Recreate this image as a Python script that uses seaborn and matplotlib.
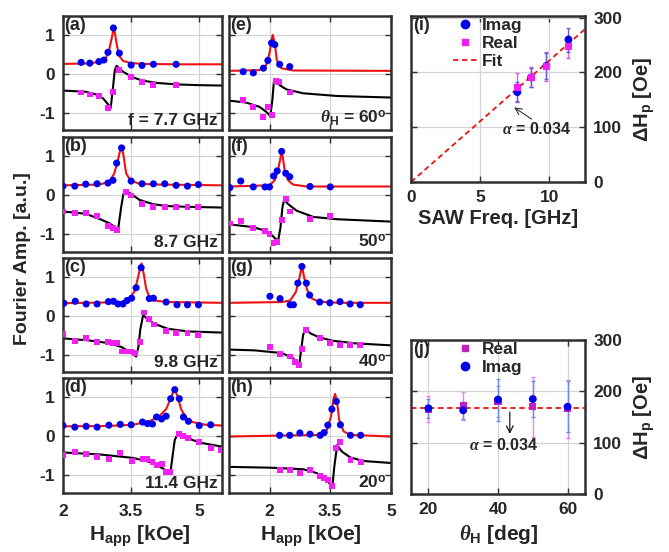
import pandas as pd
import matplotlib
matplotlib.use("Agg")
import matplotlib.pyplot as plt
from matplotlib.lines import Line2D
import seaborn as sns

# Values: (H [kOe], amplitude)
# (a) f = 7.7 GHz
A_IM = [(2.40, 0.30), (2.59, 0.28), (2.79, 0.32), (2.90, 0.36), (2.99, 0.56), (3.11, 1.19),
        (3.24, 0.54), (3.50, 0.23), (3.74, 0.22), (3.99, 0.25), (4.49, 0.25)]
A_RE = [(2.40, -0.48), (2.59, -0.53), (2.79, -0.57), (2.99, -0.87), (3.10, -0.46), (3.24, 0.10),
        (3.50, -0.07), (3.74, -0.20), (3.99, -0.29), (4.49, -0.29)]
A_FIT_IM = [(2.0, 0.26), (2.5, 0.27), (2.8, 0.31), (2.95, 0.42), (3.02, 0.65), (3.08, 0.97),
            (3.12, 1.23), (3.17, 0.85), (3.23, 0.48), (3.32, 0.34), (3.46, 0.29), (3.75, 0.26),
            (4.5, 0.25), (5.5, 0.25)]
A_FIT_RE = [(2.0, -0.43), (2.5, -0.46), (2.73, -0.53), (2.88, -0.63), (2.99, -0.78), (3.05, -0.88),
            (3.10, -0.35), (3.14, 0.10), (3.18, 0.21), (3.32, 0.06), (3.54, -0.09), (3.75, -0.17),
            (4.05, -0.23), (4.5, -0.27), (5.0, -0.29), (5.5, -0.30)]

# (b) 8.7 GHz
B_IM = [(2.0, 0.24), (2.26, 0.24), (2.50, 0.29), (2.75, 0.30), (2.99, 0.32), (3.10, 0.39),
        (3.18, 0.83), (3.29, 1.22), (3.50, 0.37), (3.74, 0.30), (3.99, 0.30), (4.24, 0.30),
        (4.49, 0.26), (4.74, 0.24), (4.98, 0.28)]
B_RE = [(2.0, -0.41), (2.26, -0.45), (2.50, -0.44), (2.75, -0.52), (2.99, -0.78), (3.10, -0.83),
        (3.18, -0.89), (3.39, 0.09), (3.50, 0.0), (3.74, -0.22), (3.99, -0.29), (4.24, -0.30),
        (4.49, -0.30), (4.74, -0.30), (4.98, -0.30)]
B_FIT_IM = [(2.0, 0.26), (2.8, 0.28), (3.02, 0.35), (3.13, 0.57), (3.21, 0.91), (3.26, 1.17),
            (3.29, 1.24), (3.33, 1.04), (3.39, 0.57), (3.48, 0.39), (3.68, 0.30), (4.12, 0.28),
            (5.5, 0.26)]
B_FIT_RE = [(2.0, -0.41), (2.5, -0.47), (2.8, -0.60), (3.02, -0.71), (3.13, -0.80), (3.21, -0.90),
            (3.28, -0.30), (3.33, 0.04), (3.38, 0.12), (3.50, 0.04), (3.68, -0.11), (3.97, -0.22),
            (4.27, -0.27), (4.71, -0.29), (5.5, -0.31)]

# (c) 9.8 GHz
C_IM = [(2.02, 0.33), (2.27, 0.38), (2.51, 0.31), (2.75, 0.31), (3.00, 0.37), (3.11, 0.38),
        (3.21, 0.31), (3.32, 0.31), (3.41, 0.40), (3.51, 0.46), (3.61, 0.73), (3.72, 1.25),
        (3.90, 0.45), (3.99, 0.46), (4.27, 0.36), (4.51, 0.29), (4.74, 0.29), (4.98, 0.29)]
C_RE = [(2.0, -0.47), (2.26, -0.64), (2.50, -0.58), (2.75, -0.67), (2.99, -0.67), (3.10, -0.69),
        (3.18, -0.71), (3.29, -0.92), (3.39, -0.92), (3.50, -0.92), (3.59, -0.96), (3.70, -0.67),
        (3.79, 0.09), (3.90, -0.09), (4.01, -0.22), (4.27, -0.38), (4.49, -0.43), (4.74, -0.45),
        (4.98, -0.49)]
C_FIT_IM = [(2.0, 0.33), (3.0, 0.35), (3.28, 0.36), (3.46, 0.45), (3.57, 0.63), (3.64, 0.94),
            (3.70, 1.25), (3.73, 1.36), (3.78, 1.07), (3.83, 0.71), (3.90, 0.49), (4.01, 0.40),
            (4.30, 0.36), (5.5, 0.34)]
C_FIT_RE = [(2.0, -0.58), (2.55, -0.63), (2.99, -0.70), (3.28, -0.80), (3.46, -0.92), (3.61, -1.05),
            (3.66, -0.80), (3.70, -0.36), (3.76, 0.0), (3.78, 0.01), (3.86, -0.09), (4.01, -0.20),
            (4.30, -0.33), (4.74, -0.40), (5.5, -0.43)]

# (d) 11.4 GHz
D_IM = [(2.0, 0.28), (2.26, 0.24), (2.51, 0.26), (2.75, 0.24), (3.01, 0.29), (3.26, 0.31),
        (3.50, 0.30), (3.75, 0.37), (3.86, 0.33), (3.97, 0.32), (4.06, 0.50), (4.17, 0.45),
        (4.27, 0.52), (4.37, 0.97), (4.46, 1.20), (4.56, 0.97), (4.65, 0.50), (4.76, 0.39),
        (5.0, 0.28), (5.25, 0.30)]
D_RE = [(2.0, -0.48), (2.26, -0.39), (2.51, -0.46), (2.75, -0.52), (3.01, -0.57), (3.26, -0.42),
        (3.51, -0.63), (3.75, -0.58), (3.86, -0.58), (3.97, -0.65), (4.06, -0.74), (4.17, -0.70),
        (4.27, -0.90), (4.35, -0.91), (4.56, 0.07), (4.65, 0.02), (4.76, -0.04), (5.0, -0.15),
        (5.25, -0.30), (5.47, -0.35)]
D_FIT_IM = [(2.0, 0.26), (3.0, 0.27), (3.54, 0.30), (3.90, 0.39), (4.12, 0.52), (4.27, 0.70),
            (4.38, 1.0), (4.45, 1.23), (4.52, 1.04), (4.60, 0.70), (4.71, 0.48), (4.85, 0.37),
            (5.14, 0.30), (5.5, 0.28)]
D_FIT_RE = [(2.0, -0.41), (2.80, -0.46), (3.54, -0.55), (3.90, -0.65), (4.12, -0.77), (4.27, -0.87),
            (4.36, -0.96), (4.41, -0.52), (4.46, -0.09), (4.54, 0.10), (4.67, 0.03), (4.85, -0.09),
            (5.07, -0.17), (5.5, -0.26)]

# (e) theta_H = 60 deg
E_IM = [(1.35, 0.06), (1.60, 0.03), (1.85, 0.15), (1.96, 0.35), (2.05, 0.80), (2.13, 0.76),
        (2.25, 0.25), (2.50, 0.19)]
E_RE = [(1.35, -0.68), (1.60, -0.85), (1.85, -1.11), (1.96, -0.85), (2.06, -1.06), (2.15, -0.18),
        (2.23, -0.20), (2.50, -0.48)]
E_FIT_IM = [(1.0, 0.08), (1.75, 0.10), (1.92, 0.23), (2.0, 0.54), (2.07, 0.97), (2.08, 1.01),
            (2.13, 0.80), (2.18, 0.36), (2.29, 0.15), (2.58, 0.09), (5.0, 0.08)]
E_FIT_RE = [(1.0, -0.69), (1.42, -0.74), (1.75, -0.85), (1.92, -0.98), (2.02, -1.09), (2.07, -0.68),
            (2.11, -0.17), (2.15, -0.16), (2.25, -0.29), (2.42, -0.40), (2.83, -0.50), (3.67, -0.57),
            (5.0, -0.61)]

# (f) 50 deg
F_IM = [(1.02, 0.20), (1.29, 0.37), (1.60, 0.22), (1.89, 0.22), (2.0, 0.22), (2.10, 0.50),
        (2.19, 0.63), (2.30, 1.13), (2.40, 0.57), (2.50, 0.48), (3.0, 0.23), (3.5, 0.22)]
F_RE = [(1.02, -0.72), (1.29, -0.65), (1.60, -0.84), (1.89, -0.91), (2.0, -0.98), (2.10, -1.22),
        (2.19, -1.19), (2.30, -0.63), (2.40, -0.10), (2.50, -0.41), (3.0, -0.61), (3.5, -0.52)]
F_FIT_IM = [(1.0, 0.23), (2.0, 0.26), (2.13, 0.39), (2.21, 0.65), (2.27, 0.96), (2.30, 1.13),
            (2.33, 0.96), (2.38, 0.61), (2.46, 0.39), (2.58, 0.28), (2.92, 0.23), (5.0, 0.23)]
F_FIT_RE = [(1.0, -0.74), (1.58, -0.81), (1.92, -0.91), (2.08, -1.04), (2.21, -1.17), (2.27, -0.83),
            (2.32, -0.30), (2.36, -0.11), (2.46, -0.22), (2.67, -0.39), (3.08, -0.55), (3.67, -0.61),
            (5.0, -0.67)]

# (g) 40 deg
G_IM = [(2.01, 0.51), (2.26, 0.45), (2.51, 0.29), (2.59, 0.29), (2.70, 0.85), (2.80, 1.28),
        (2.91, 0.85), (2.99, 0.54), (3.24, 0.36), (3.49, 0.34), (3.74, 0.37), (3.99, 0.31), (4.24, 0.29)]
G_RE = [(2.01, -0.80), (2.26, -0.98), (2.51, -1.05), (2.62, -1.19), (2.72, -1.28), (2.80, -0.85),
        (2.91, -0.37), (3.24, -0.58), (3.49, -0.70), (3.74, -0.76), (3.99, -0.74), (4.24, -0.76)]
G_FIT_IM = [(1.0, 0.34), (2.30, 0.36), (2.51, 0.40), (2.65, 0.62), (2.73, 0.94), (2.80, 1.29),
            (2.86, 0.98), (2.93, 0.67), (3.05, 0.45), (3.22, 0.37), (3.72, 0.34), (5.0, 0.34)]
G_FIT_RE = [(1.0, -0.87), (1.63, -0.89), (2.30, -0.96), (2.55, -1.07), (2.68, -1.19), (2.73, -1.29),
            (2.78, -0.89), (2.83, -0.49), (2.88, -0.34), (3.01, -0.45), (3.22, -0.55), (3.55, -0.64),
            (4.13, -0.71), (5.0, -0.76)]

# (h) 20 deg
H_IM = [(2.25, 0.03), (2.5, 0.03), (2.75, 0.09), (3.0, 0.06), (3.25, 0.03), (3.35, 0.10),
        (3.44, 0.29), (3.54, 0.70), (3.65, 0.90), (3.75, 0.30), (4.0, 0.03), (4.25, 0.03)]
H_RE = [(2.25, -0.87), (2.5, -0.85), (2.75, -0.93), (3.0, -0.85), (3.25, -1.02), (3.35, -1.06),
        (3.44, -1.11), (3.54, -1.26), (3.65, -0.30), (3.75, -0.15), (4.0, -0.61), (4.25, -0.65)]
H_FIT_IM = [(1.0, 0.0), (3.25, 0.04), (3.42, 0.17), (3.52, 0.52), (3.58, 0.96), (3.62, 1.09),
            (3.67, 0.87), (3.72, 0.43), (3.83, 0.13), (4.0, 0.04), (5.0, 0.0)]
H_FIT_RE = [(1.0, -0.78), (2.0, -0.80), (2.83, -0.84), (3.17, -0.94), (3.38, -1.09), (3.50, -1.23),
            (3.55, -1.29), (3.60, -0.78), (3.67, -0.22), (3.79, -0.39), (4.0, -0.54), (4.33, -0.63),
            (5.0, -0.68)]

# (i) linewidth vs SAW frequency
FREQ = [7.7, 8.7, 9.8, 11.4]
I_IMAG = [164, 191, 212, 260]
I_IMAG_ERR = [18, 17, 24, 22]
I_REAL = [173, 191, 211, 247]
I_REAL_ERR = [26, 18, 26, 20]
I_FIT_X = [0, 12.6]
I_FIT_Y = [0, 279]

# (j) linewidth vs field angle
ANGLE = [20, 30, 40, 50, 60]
J_REAL = [165, 172, 180, 170, 166]
J_REAL_ERR = [25, 27, 30, 58, 56]
J_IMAG = [167, 163, 184, 185, 170]
J_IMAG_ERR = [18, 17, 41, 35, 50]
J_FIT_X = [15, 65]
J_FIT_Y = [167, 167]

FREQ_NOTES = ["f = 7.7 GHz", "8.7 GHz", "9.8 GHz", "11.4 GHz"]
ANGLE_NOTES = [r"$\theta_{\rm H}$ = 60$^{\rm o}$", r"50$^{\rm o}$", r"40$^{\rm o}$", r"20$^{\rm o}$"]

BLUE = "#0000ee"
MAG = "#f020f0"
RED = "#ee1111"
FRAME = "#303030"
W, H = 669, 552

sns.set_theme(style="ticks")
plt.rcParams["font.family"] = ["Liberation Sans", "DejaVu Sans"]
plt.rcParams["font.weight"] = "bold"
plt.rcParams["mathtext.fontset"] = "custom"
plt.rcParams["mathtext.rm"] = "Liberation Sans:bold"
plt.rcParams["mathtext.bf"] = "Liberation Sans:bold"
plt.rcParams["mathtext.it"] = "Liberation Serif:italic"


def add_ax(fig, left, top, right, bottom):
    return fig.add_axes([left / W, 1 - bottom / H, (right - left) / W, (bottom - top) / H])


def style_ax(ax):
    for sp in ax.spines.values():
        sp.set_color(FRAME)
        sp.set_linewidth(1.8)
    ax.grid(True, color="#d4d4d4", lw=0.9)
    ax.set_axisbelow(True)
    ax.tick_params(direction="in", top=True, right=True, length=4, width=1,
                   color=FRAME, labelsize=12.5, pad=6)
    ax.set_xlabel("")
    ax.set_ylabel("")


def to_df(pts):
    return pd.DataFrame(pts, columns=["H", "amp"])


def fourier_panel(ax, im, re, fit_im, fit_re, xlim, tag, note, show_x, show_y):
    sns.lineplot(data=to_df(fit_im), x="H", y="amp", sort=False, estimator=None,
                 color=RED, lw=1.5, ax=ax)
    sns.lineplot(data=to_df(fit_re), x="H", y="amp", sort=False, estimator=None,
                 color="black", lw=1.5, ax=ax)
    sns.scatterplot(data=to_df(im), x="H", y="amp", marker="o", color=BLUE, s=26,
                    edgecolor="none", ax=ax, zorder=3)
    sns.scatterplot(data=to_df(re), x="H", y="amp", marker="s", color=MAG, s=18,
                    edgecolor="none", ax=ax, zorder=3)
    ax.set_xlim(*xlim)
    ax.set_ylim(-1.45, 1.5)
    ax.set_xticks([2, 3.5, 5])
    ax.set_yticks([-1, 0, 1])
    ax.set_xticklabels(["2", "3.5", "5"] if show_x else [])
    ax.set_yticklabels(["-1", "0", "1"] if show_y else [])
    style_ax(ax)
    ax.tick_params(axis="x", pad=8)
    ax.text(0.01, 0.995, tag, transform=ax.transAxes, ha="left", va="top",
            fontsize=13, fontweight="bold")
    ax.text(0.975, 0.015, note, transform=ax.transAxes, ha="right", va="bottom",
            fontsize=12.5, fontweight="bold")


fig = plt.figure(figsize=(6.69, 5.52), dpi=100)

tops = [16, 137, 258, 378]
bottoms = [130, 252, 372, 493]
col1 = [(A_IM, A_RE, A_FIT_IM, A_FIT_RE), (B_IM, B_RE, B_FIT_IM, B_FIT_RE),
        (C_IM, C_RE, C_FIT_IM, C_FIT_RE), (D_IM, D_RE, D_FIT_IM, D_FIT_RE)]
col2 = [(E_IM, E_RE, E_FIT_IM, E_FIT_RE), (F_IM, F_RE, F_FIT_IM, F_FIT_RE),
        (G_IM, G_RE, G_FIT_IM, G_FIT_RE), (H_IM, H_RE, H_FIT_IM, H_FIT_RE)]

for k in range(4):
    ax = add_ax(fig, 63, tops[k], 222, bottoms[k])
    fourier_panel(ax, *col1[k], (2, 5.5), "(" + "abcd"[k] + ")", FREQ_NOTES[k], k == 3, True)
    ax = add_ax(fig, 229, tops[k], 391, bottoms[k])
    fourier_panel(ax, *col2[k], (1, 5), "(" + "efgh"[k] + ")", ANGLE_NOTES[k], k == 3, False)

# (i) linewidth vs frequency
ax = add_ax(fig, 411, 16, 585, 182)
sns.lineplot(x=I_FIT_X, y=I_FIT_Y, color=RED, lw=1.3, ax=ax)
ax.lines[-1].set_dashes((3, 2))
ax.errorbar(FREQ, I_REAL, yerr=I_REAL_ERR, fmt="none", ecolor="#d060e0", elinewidth=1,
            capsize=1.5, zorder=2)
ax.errorbar(FREQ, I_IMAG, yerr=I_IMAG_ERR, fmt="none", ecolor="#6a5ad8", elinewidth=1,
            capsize=1.5, zorder=2)
sns.scatterplot(x=FREQ, y=I_IMAG, marker="o", color=BLUE, s=32, edgecolor="none", ax=ax, zorder=3)
sns.scatterplot(x=FREQ, y=I_REAL, marker="s", color=MAG, s=26, edgecolor="none", ax=ax, zorder=4)
ax.set_xlim(0, 12.6)
ax.set_ylim(0, 303)
ax.set_xticks([0, 5, 10])
ax.set_yticks([0, 100, 200, 300])
style_ax(ax)
ax.yaxis.tick_right()
ax.tick_params(axis="y", left=True, right=True)
ax.yaxis.set_label_position("right")
ax.set_ylabel(r"$\Delta$H$_{\rm p}$ [Oe]", fontsize=14.5, fontweight="bold", labelpad=7)
ax.set_xlabel("SAW Freq. [GHz]", fontsize=14.5, fontweight="bold", labelpad=3)
ax.text(0.01, 0.995, "(i)", transform=ax.transAxes, ha="left", va="top", fontsize=13,
        fontweight="bold")
ax.annotate("", xy=(7.3, 139), xytext=(8.9, 112),
            arrowprops=dict(arrowstyle="->", color="#333333", lw=0.8))
ax.text(9.1, 96, r"$\alpha$ = 0.034", ha="center", va="center", fontsize=11.5, fontweight="bold")
handles = [Line2D([], [], marker="o", color=BLUE, ls="none", ms=6),
           Line2D([], [], marker="s", color=MAG, ls="none", ms=5),
           Line2D([], [], color=RED, ls=(0, (3, 2)), lw=1.3)]
ax.legend(handles, ["Imag", "Real", "Fit"], loc="upper left", bbox_to_anchor=(0.2, 1.03),
          frameon=False, fontsize=12.5, handlelength=1.4, handletextpad=0.3,
          labelspacing=0.15, borderaxespad=0)

# (j) linewidth vs angle
ax = add_ax(fig, 411, 340, 585, 494)
sns.lineplot(x=J_FIT_X, y=J_FIT_Y, color=RED, lw=1.3, ax=ax)
ax.lines[-1].set_dashes((3, 2))
ax.errorbar(ANGLE, J_REAL, yerr=J_REAL_ERR, fmt="none", ecolor="#f080f0", elinewidth=1,
            capsize=1.5, zorder=2)
ax.errorbar(ANGLE, J_IMAG, yerr=J_IMAG_ERR, fmt="none", ecolor="#6f8ee0", elinewidth=1,
            capsize=1.5, zorder=2)
sns.scatterplot(x=ANGLE, y=J_REAL, marker="s", color="#c020c0", s=26, edgecolor="none", ax=ax, zorder=3)
sns.scatterplot(x=ANGLE, y=J_IMAG, marker="o", color=BLUE, s=32, edgecolor="none", ax=ax, zorder=4)
ax.set_xlim(15, 65)
ax.set_ylim(0, 300)
ax.set_xticks([20, 40, 60])
ax.set_yticks([0, 100, 200, 300])
style_ax(ax)
ax.yaxis.tick_right()
ax.tick_params(axis="y", left=True, right=True)
ax.yaxis.set_label_position("right")
ax.set_ylabel(r"$\Delta$H$_{\rm p}$ [Oe]", fontsize=14.5, fontweight="bold", labelpad=7)
ax.text(0.01, 0.995, "(j)", transform=ax.transAxes, ha="left", va="top", fontsize=13,
        fontweight="bold")
ax.annotate("", xy=(43.4, 112), xytext=(43.4, 165),
            arrowprops=dict(arrowstyle="->", color="black", lw=0.8))
ax.text(41.7, 95, r"$\alpha$ = 0.034", ha="center", va="center", fontsize=11.5, fontweight="bold")
handles = [Line2D([], [], marker="s", color="#c020c0", ls="none", ms=5),
           Line2D([], [], marker="o", color=BLUE, ls="none", ms=6)]
ax.legend(handles, ["Real", "Imag"], loc="upper left", bbox_to_anchor=(0.2, 1.03),
          frameon=False, fontsize=12.5, handlelength=1.4, handletextpad=0.3,
          labelspacing=0.15, borderaxespad=0)

# shared labels
fig.text(23 / W, 1 - 259 / H, "Fourier Amp. [a.u.]", rotation=90, ha="center", va="center",
         fontsize=14, fontweight="bold")
fig.text(140 / W, 1 - 541 / H, r"H$_{\rm app}$ [kOe]", ha="center", va="baseline",
         fontsize=15, fontweight="bold")
fig.text(311 / W, 1 - 541 / H, r"H$_{\rm app}$ [kOe]", ha="center", va="baseline",
         fontsize=15, fontweight="bold")
fig.text(499 / W, 1 - 540 / H, r"$\theta_{\rm H}$ [deg]", ha="center", va="baseline",
         fontsize=15, fontweight="bold")

fig.savefig("out.png", dpi=100)
